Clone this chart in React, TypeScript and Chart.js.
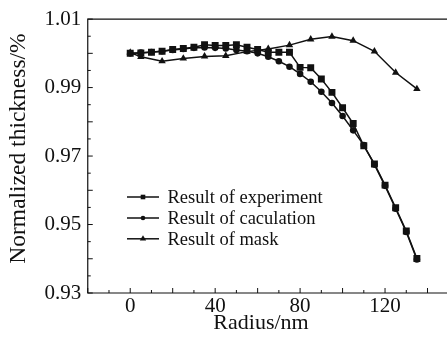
import React, { useEffect, useRef } from 'react';
import { Chart, registerables } from 'chart.js';

Chart.register(...registerables);

const radiusFine = [0, 5, 10, 15, 20, 25, 30, 35, 40, 45, 50, 55, 60, 65, 70, 75, 80, 85, 90, 95, 100, 105, 110, 115, 120, 125, 130, 135];
const experiment = [1.0000, 1.0001, 1.0003, 1.0006, 1.0011, 1.0014, 1.0018, 1.0025, 1.0023, 1.0023, 1.0025, 1.0018, 1.0011, 1.0003, 1.0003, 1.0003, 0.9959, 0.9958, 0.9925, 0.9886, 0.9841, 0.9795, 0.9730, 0.9677, 0.9615, 0.9549, 0.9481, 0.9401];
const calculation = [1.0000, 1.0002, 1.0004, 1.0006, 1.0010, 1.0013, 1.0016, 1.0017, 1.0016, 1.0014, 1.0010, 1.0006, 1.0000, 0.9990, 0.9977, 0.9961, 0.9940, 0.9917, 0.9888, 0.9855, 0.9817, 0.9775, 0.9732, 0.9675, 0.9613, 0.9546, 0.9478, 0.9398];
const radiusMask = [0, 5, 15, 25, 35, 45, 55, 65, 75, 85, 95, 105, 115, 125, 135];
const mask = [1.0002, 0.9990, 0.9977, 0.9985, 0.9991, 0.9993, 1.0005, 1.0013, 1.0024, 1.0041, 1.0049, 1.0037, 1.0006, 0.9944, 0.9896];

const seriesLabels = ['Result of experiment', 'Result of caculation', 'Result of mask'];
const seriesMarkers = ['rect', 'circle', 'triangle'];
const xTickLabels = [0, 40, 80, 120];
const yTickLabels = ['0.93', '0.95', '0.97', '0.99', '1.01'];
const xTitle = 'Radius/nm';
const yTitle = 'Normalized thickness/%';

const FONT = '"Liberation Serif", "Times New Roman", serif';
const INK = '#111';

function drawMarker(ctx: CanvasRenderingContext2D, kind: string, x: number, y: number, s: number) {
  ctx.beginPath();
  if (kind === 'rect') {
    ctx.rect(x - s, y - s, 2 * s, 2 * s);
  } else if (kind === 'circle') {
    ctx.arc(x, y, s, 0, Math.PI * 2);
  } else {
    const r = s * 1.35;
    ctx.moveTo(x, y - r);
    ctx.lineTo(x + r * 0.866, y + r * 0.5);
    ctx.lineTo(x - r * 0.866, y + r * 0.5);
    ctx.closePath();
  }
  ctx.fill();
}

const framePlugin = {
  id: 'frameTicksLegend',
  afterDraw(chart: any) {
    const { ctx, chartArea } = chart;
    const { left, right, top, bottom } = chartArea;
    const xs = chart.scales.x;
    const ys = chart.scales.y;
    ctx.save();
    ctx.strokeStyle = INK;
    ctx.lineWidth = 1.2;
    ctx.beginPath();
    ctx.moveTo(right, top);
    ctx.lineTo(left, top);
    ctx.lineTo(left, bottom);
    ctx.lineTo(right, bottom);
    ctx.stroke();
    ctx.lineWidth = 1;
    ctx.beginPath();
    xs.ticks.forEach((t: any) => {
      const px = xs.getPixelForValue(t.value);
      const len = Math.round(t.value) % 20 === 0 ? 5 : 3;
      ctx.moveTo(px, bottom);
      ctx.lineTo(px, bottom - len);
    });
    ys.ticks.forEach((t: any) => {
      const py = ys.getPixelForValue(t.value);
      const k = Math.round((t.value - 0.93) / 0.005);
      const len = k % 2 === 0 ? 5 : 3;
      ctx.moveTo(left, py);
      ctx.lineTo(left + len, py);
    });
    ctx.stroke();

    // axis titles
    ctx.fillStyle = INK;
    ctx.textBaseline = 'alphabetic';
    ctx.textAlign = 'center';
    ctx.font = `22px ${FONT}`;
    ctx.fillText(xTitle, 261, 328.5);
    ctx.save();
    ctx.translate(25, 148.5);
    ctx.rotate(-Math.PI / 2);
    ctx.font = `23.5px ${FONT}`;
    ctx.fillText(yTitle, 0, 0);
    ctx.restore();

    // legend
    const rows = [197, 218, 238.8];
    ctx.font = `18.5px ${FONT}`;
    ctx.textAlign = 'left';
    seriesLabels.forEach((lab, i) => {
      const y = rows[i];
      ctx.lineWidth = 1.5;
      ctx.beginPath();
      ctx.moveTo(127, y);
      ctx.lineTo(159, y);
      ctx.stroke();
      drawMarker(ctx, seriesMarkers[i], 143, y, seriesMarkers[i] === 'triangle' ? 2.7 : 2.3);
      ctx.fillText(lab, 167.5, y + 6);
    });
    ctx.restore();
  },
};

export default function App() {
  const ref = useRef<HTMLCanvasElement>(null);
  useEffect(() => {
    if (!ref.current) return;
    const mk = (xs: number[], ys: number[]) => xs.map((x, i) => ({ x, y: ys[i] }));
    const common = {
      borderColor: INK,
      backgroundColor: INK,
      pointBackgroundColor: INK,
      pointBorderColor: INK,
      borderWidth: 1.5,
      pointBorderWidth: 0,
      tension: 0,
      fill: false,
    };
    const chart = new Chart(ref.current, {
      type: 'line',
      data: {
        datasets: [
          { ...common, label: seriesLabels[0], data: mk(radiusFine, experiment), pointStyle: 'rect', pointRadius: 4.9 },
          { ...common, label: seriesLabels[1], data: mk(radiusFine, calculation), pointStyle: 'circle', pointRadius: 3.3 },
          { ...common, label: seriesLabels[2], data: mk(radiusMask, mask), pointStyle: 'triangle', pointRadius: 4.3 },
        ],
      },
      options: {
        animation: false,
        responsive: false,
        maintainAspectRatio: false,
        layout: { padding: { top: 14, right: 11.25, left: 0, bottom: 0 } },
        plugins: { legend: { display: false }, tooltip: { enabled: false } },
        scales: {
          x: {
            type: 'linear',
            min: -20,
            max: 150,
            afterFit: (s: any) => { s.height = 54; },
            grid: { display: false, drawTicks: false },
            border: { display: false },
            ticks: {
              stepSize: 10,
              autoSkip: false,
              maxRotation: 0,
              padding: 1,
              color: INK,
              font: { family: FONT, size: 21 },
              callback: (v: any) => (xTickLabels.includes(Math.round(v)) ? String(Math.round(v)) : ''),
            },
            title: { display: false, text: xTitle },
          },
          y: {
            type: 'linear',
            min: 0.93,
            max: 1.01,
            afterFit: (s: any) => { s.width = 87.75; },
            grid: { display: false, drawTicks: false },
            border: { display: false },
            ticks: {
              stepSize: 0.005,
              autoSkip: false,
              padding: 6.5,
              color: INK,
              font: { family: FONT, size: 21 },
              callback: (v: any) => {
                const k = Math.round((Number(v) - 0.93) / 0.005);
                return k % 4 === 0 ? yTickLabels[k / 4] ?? '' : '';
              },
            },
            title: { display: false, text: yTitle },
          },
        },
      },
      plugins: [framePlugin],
    });
    return () => chart.destroy();
  }, []);
  return (
    <div style={{ position: 'absolute', left: 0, top: 0, width: 447, height: 347, overflow: 'hidden', background: '#fff' }}>
      <canvas ref={ref} width={460} height={347} style={{ display: 'block', width: 460, height: 347 }} />
    </div>
  );
}
